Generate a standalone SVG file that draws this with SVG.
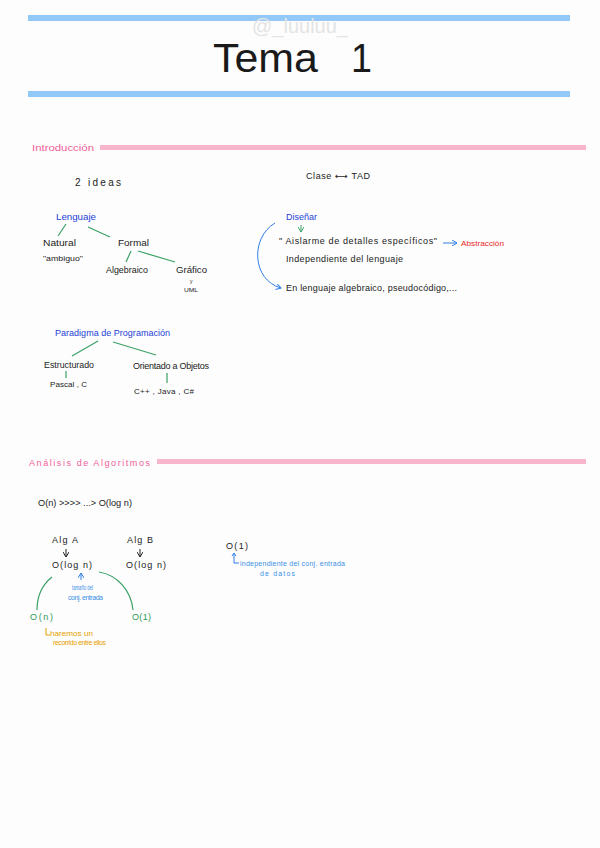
<svg xmlns="http://www.w3.org/2000/svg" width="600" height="848" viewBox="0 0 600 848">
<style>
text{font-family:"Liberation Sans","DejaVu Sans",sans-serif;font-size:9px;fill:#222}
.b{fill:#1d3fd6}.p{fill:#f0609a}.r{fill:#e62828}.g{fill:#2e9a58}.o{fill:#e6a100}.s{fill:#3b8fe6;font-size:7px}
.gl{stroke:#3aa065;stroke-width:1.2;fill:none}
.bl{stroke:#2f7fe6;stroke-width:1;fill:none}
</style>
<defs>
<marker id="ah" markerWidth="6" markerHeight="6" refX="5" refY="3" orient="auto" markerUnits="userSpaceOnUse"><path d="M0,0 L5,3 L0,6" fill="none" stroke="context-stroke" stroke-width="1"/></marker>
</defs>
<rect width="600" height="848" fill="#fdfdfd"/>
<g id="header">
<rect x="28" y="15" width="542" height="6" fill="#92c9f8"/>
<text x="300" y="33" text-anchor="middle" style="font-size:20px;fill:#e4e4e4">@_luuluu_</text>
<text x="213" y="72" textLength="105" lengthAdjust="spacingAndGlyphs" style="font-size:40px;fill:#1a1a1a">Tema</text>
<text x="351" y="72" textLength="21" lengthAdjust="spacingAndGlyphs" style="font-size:40px;fill:#1a1a1a">1</text>
<rect x="28" y="91" width="542" height="6" fill="#92c9f8"/>
</g>
<g id="introduccion">
<text class="p" x="32" y="151" textLength="62" lengthAdjust="spacingAndGlyphs">Introducción</text>
<rect x="100" y="145" width="486" height="5" fill="#f9b5cb"/>
</g>
<g id="ideas"><text x="75" y="186" textLength="46" lengthAdjust="spacing" style="font-size:10px">2  ideas</text></g>
<g id="clase"><text x="306" y="179" textLength="64" lengthAdjust="spacing">Clase ⟷ TAD</text></g>
<g id="lenguaje"><text class="b" x="56" y="220" textLength="40" lengthAdjust="spacingAndGlyphs">Lenguaje</text></g>
<g id="natural"><text x="43" y="246" textLength="33" lengthAdjust="spacingAndGlyphs">Natural</text>
<text x="43" y="261" textLength="40" lengthAdjust="spacingAndGlyphs" style="font-size:8px">"ambiguo"</text></g>
<g id="formal"><text x="118" y="246" textLength="31" lengthAdjust="spacingAndGlyphs">Formal</text></g>
<g id="algebraico"><text x="106" y="273" textLength="42" lengthAdjust="spacingAndGlyphs">Algebraico</text></g>
<g id="grafico"><text x="176" y="273" textLength="31" lengthAdjust="spacingAndGlyphs">Gráfico</text>
<text x="190" y="283" style="font-size:5px">y</text>
<text x="184" y="292" textLength="14" lengthAdjust="spacingAndGlyphs" style="font-size:6px">UML</text></g>
<g id="disenar"><text class="b" x="286" y="220" textLength="31" lengthAdjust="spacingAndGlyphs">Diseñar</text></g>
<g id="aislarme"><text x="279" y="244" textLength="158" lengthAdjust="spacing">" Aislarme  de  detalles  específicos"</text></g>
<g id="abstraccion"><text class="r" x="461" y="246" textLength="43" lengthAdjust="spacingAndGlyphs" style="font-size:8px">Abstracción</text></g>
<g id="independiente"><text x="286" y="262" textLength="117" lengthAdjust="spacing">Independiente  del  lenguaje</text></g>
<g id="en-lenguaje"><text x="286" y="291" textLength="171" lengthAdjust="spacing">En  lenguaje  algebraico,  pseudocódigo,...</text></g>
<g id="paradigma"><text class="b" x="55" y="336" textLength="115" lengthAdjust="spacing">Paradigma  de  Programación</text></g>
<g id="estructurado"><text x="44" y="368" textLength="50" lengthAdjust="spacingAndGlyphs">Estructurado</text></g>
<g id="pascal"><text x="50" y="387" textLength="37" lengthAdjust="spacing" style="font-size:8px">Pascal , C</text></g>
<g id="objetos"><text x="133" y="369" textLength="76" lengthAdjust="spacing">Orientado  a  Objetos</text></g>
<g id="lenguajes-oo"><text x="134" y="394" textLength="60" lengthAdjust="spacing" style="font-size:8px">C++ , Java , C#</text></g>
<g id="analisis">
<text class="p" x="29" y="466" textLength="121" lengthAdjust="spacing">Análisis  de  Algoritmos</text>
<rect x="157" y="459" width="429" height="5" fill="#f9b5cb"/>
</g>
<g id="orden"><text x="38" y="506" textLength="94" lengthAdjust="spacingAndGlyphs" style="font-size:9px">O(n) &gt;&gt;&gt;&gt; ...&gt; O(log n)</text></g>
<g id="alg-a"><text x="52" y="543" textLength="26" lengthAdjust="spacing">Alg  A</text>
<text x="52" y="568" textLength="40" lengthAdjust="spacing">O(log n)</text></g>
<g id="alg-b"><text x="127" y="543" textLength="26" lengthAdjust="spacing">Alg  B</text>
<text x="126" y="568" textLength="40" lengthAdjust="spacing">O(log n)</text></g>
<g id="tamano"><text class="s" x="72" y="590" textLength="21" lengthAdjust="spacingAndGlyphs">tamaño del</text>
<text class="s" x="68" y="600" textLength="35" lengthAdjust="spacing">conj.  entrada</text></g>
<g id="o-n"><text class="g" x="30" y="620" textLength="23" lengthAdjust="spacing">O(n)</text></g>
<g id="o-1"><text class="g" x="132" y="620" textLength="19" lengthAdjust="spacing">O(1)</text></g>
<g id="recorrido"><text class="o" x="50" y="636" textLength="43" lengthAdjust="spacingAndGlyphs" style="font-size:7px">haremos un</text>
<text class="o" x="53" y="645" textLength="53" lengthAdjust="spacing" style="font-size:7px">recorrido entre ellos</text></g>
<g id="o-1-b"><text x="226" y="549" textLength="22" lengthAdjust="spacing">O(1)</text></g>
<g id="indep-datos"><text class="s" x="240" y="566" textLength="105" lengthAdjust="spacing">independiente  del  conj.  entrada</text>
<text class="s" x="260" y="576" textLength="35" lengthAdjust="spacing">de  datos</text></g>
<g id="connectors">
<path class="gl" d="M66,224 L58,236"/>
<path class="gl" d="M88,227 L110,237"/>
<path class="gl" d="M131,251 L126,262"/>
<path class="gl" d="M138,251 L175,262"/>
<path d="M301,225 L301,232" stroke="#3aa065" stroke-width="1" fill="none" marker-end="url(#ah)"/>
<path class="bl" d="M443,243 L457,243" marker-end="url(#ah)"/>
<path class="bl" d="M275,223 C250,238 252,280 281,288" marker-end="url(#ah)"/>
<path class="gl" d="M98,341 L72,356"/>
<path class="gl" d="M113,342 L156,355"/>
<path class="gl" d="M66,371 L66,378"/>
<path class="gl" d="M167,373 L167,383"/>
<path d="M66,549 L66,557" stroke="#222" stroke-width="1" fill="none" marker-end="url(#ah)"/>
<path d="M140,549 L140,557" stroke="#222" stroke-width="1" fill="none" marker-end="url(#ah)"/>
<path class="bl" d="M81,580 L81,573" marker-end="url(#ah)"/>
<path class="gl" d="M52,577 C42,585 37,596 37,610"/>
<path class="gl" d="M99,572 C117,575 131,590 133,610"/>
<path d="M46,628 L46,635 L50,635" stroke="#e6a100" stroke-width="1" fill="none"/>
<path class="bl" d="M234,553 L234,563 L239,563"/>
<path d="M234,553 L232,556 M234,553 L236,556" stroke="#2f7fe6" stroke-width="1" fill="none"/>
</g>
</svg>
